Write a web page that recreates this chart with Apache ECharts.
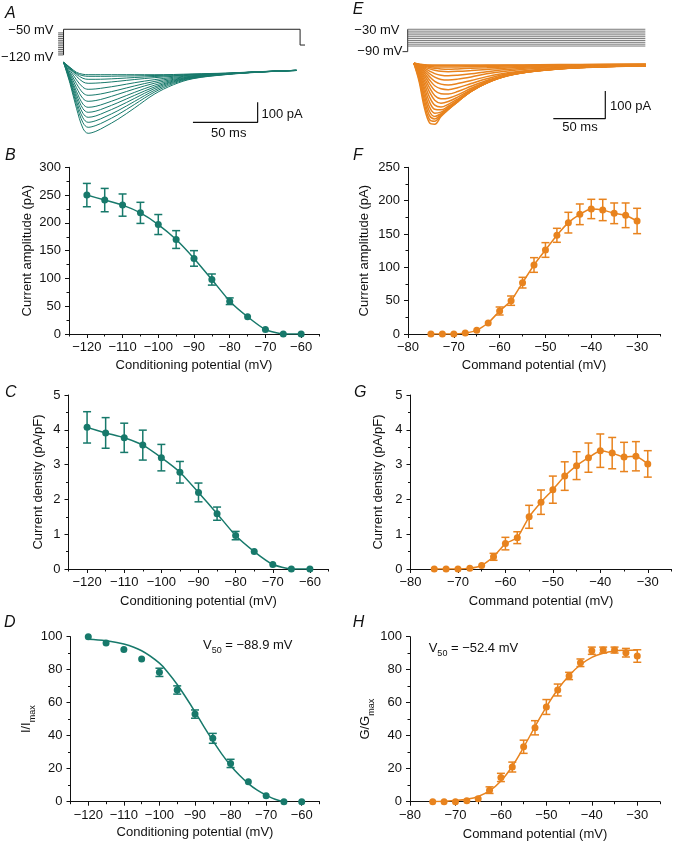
<!DOCTYPE html>
<html><head><meta charset="utf-8">
<script src="https://cdn.jsdelivr.net/npm/echarts@6/dist/echarts.min.js"></script>
<style>html,body{margin:0;padding:0;background:#fff}#c{width:673px;height:843px}</style>
</head><body><div id="c"></div><script>
// ---------- data ----------
const condV = [-120,-115,-110,-105,-100,-95,-90,-85,-80,-75,-70,-65,-60];
const ampB  = [250,241,232,218,197,170,136,98,59,31,8,0,0];
const errB  = [21,21,20,19,18,16,14,10,6,0,0,0,0];
const densC = [4.07,3.91,3.77,3.56,3.20,2.78,2.20,1.59,0.96,0.50,0.13,0,0];
const errC  = [0.45,0.44,0.42,0.43,0.38,0.31,0.27,0.19,0.12,0,0,0,0];
const normD = [100,96.2,92.3,86.5,78.4,67.7,53.1,38.4,23.2,12.1,3.6,0,0];
const errD  = [0,0,0,0,2.5,2.5,2.5,3,2.5,0,0,0,0];
const fitDV = [-120,-115,-110,-105,-100,-97.5,-95,-92.5,-90,-87.5,-85,-82.5,-80,-77.5,-75,-72.5,-70,-67.5,-65];
const fitD  = [98.5,97.6,95.6,91.5,84,78,71,63,54.5,45.5,37,29,22,16,11,7,4,1.5,0];

const cmdV  = [-75,-72.5,-70,-67.5,-65,-62.5,-60,-57.5,-55,-52.5,-50,-47.5,-45,-42.5,-40,-37.5,-35,-32.5,-30];
const ampF  = [0,0,0,1.5,5.5,16.5,34.5,50,77,103.5,126,148,167,179.5,187.5,186,181,178,169.5];
const errF  = [0,0,0,0,0,0,6,7,8,11,11,10.5,15.5,15.5,14.5,16,15.5,18.5,19];
const densG = [0,0,0,0.02,0.1,0.35,0.73,0.9,1.5,1.92,2.28,2.67,2.97,3.2,3.4,3.33,3.22,3.24,3.02];
const errG  = [0,0,0,0,0,0.1,0.18,0.17,0.33,0.35,0.39,0.41,0.4,0.42,0.48,0.45,0.42,0.42,0.38];
const normH = [0,0,0,0.6,1.8,7,14.7,21,33.3,44.8,57.4,67.7,76.2,84.2,91.5,91.9,91.9,90.3,88.3];
const errH  = [0,0,0,0,0,2,2.5,3,4,4.3,4.5,3.6,2.2,2.3,2.2,1.8,1.8,2.6,3.8];
const fitHV = [-75,-72.5,-70,-67.5,-65,-62.5,-60,-57.5,-55,-52.5,-50,-47.5,-45,-42.5,-40,-37.5,-35,-32.5,-30];
const fitH  = [0.1,0.3,0.7,1.5,3.2,6.5,12.5,21.5,33,45.5,57.5,68,76.5,83,87.5,90,91.3,91.8,92];

// tick labels
const xTicksCond = [-120,-110,-100,-90,-80,-70,-60];
const xMinorCond = [-125,-115,-105,-95,-85,-75,-65,-55];
const xTicksCmd  = [-80,-70,-60,-50,-40,-30];
const xMinorCmd  = [-75,-65,-55,-45,-35,-25];

// panel A: inactivation protocol (mV) and current traces (ms, pA)
const condLevelsA = [-120,-115,-110,-105,-100,-95,-90,-85,-80,-75,-70,-65,-60];
const testA = -50;
const tailA = -93;
const timeA = [0,5,10,15,19,25,32,42,55,70,85,100,125,150,180];
const tracesA = [
  [0,-25,-50,-60,-62,-62,-62,-62,-62,-62,-61,-58,-54,-47,-40],
  [0,-28,-55,-67,-70,-70,-70,-69,-68,-66,-64,-60,-55,-48,-41],
  [0,-30,-60,-80,-85,-85,-84,-81,-76,-71,-67,-62,-56,-48,-40],
  [0,-33,-70,-98,-105,-104,-101,-95,-86,-77,-70,-64,-56,-48,-41],
  [0,-40,-88,-125,-135,-133,-127,-117,-102,-87,-75,-67,-57,-48,-40],
  [0,-50,-107,-153,-165,-162,-154,-139,-118,-96,-80,-69,-58,-49,-41],
  [0,-58,-127,-181,-195,-191,-180,-160,-133,-105,-85,-71,-58,-48,-40],
  [0,-68,-146,-209,-225,-220,-206,-183,-150,-115,-89,-73,-59,-49,-41],
  [0,-75,-162,-232,-250,-244,-228,-202,-165,-124,-93,-75,-59,-48,-40],
  [0,-82,-178,-255,-275,-268,-250,-222,-180,-132,-97,-76,-60,-49,-40],
  [0,-90,-195,-278,-300,-292,-273,-242,-195,-141,-101,-78,-60,-49,-41],
  [0,-97,-211,-302,-325,-316,-296,-262,-210,-150,-106,-80,-61,-49,-40],
  [0,-106,-230,-330,-355,-345,-322,-285,-228,-160,-112,-82,-62,-50,-40]
];
const scaleBarA = [[100,-300],[150,-300],[150,-200]];

// panel E: activation protocol (mV) and current traces (ms, pA)
const holdE = -90;
const stepLevelsE = [-75,-70,-65,-60,-55,-50,-45,-40,-35,-30];
const timeE = [6,11,16,21,26,32,39,48,61,76,96,126,166,229];
const tracesE = [
  [0,-3,-5,-6,-6,-6,-6,-6,-6,-6,-6,-5,-4,-2],
  [0,-3,-6,-8,-9,-9,-9,-9,-9,-8,-7,-6,-5,-3],
  [0,-4,-8,-11,-13,-13,-13,-13,-12,-11,-10,-8,-6,-4],
  [0,-5,-10,-15,-18,-20,-21,-20,-18,-16,-13,-10,-7,-5],
  [0,-6,-13,-20,-25,-29,-30,-29,-26,-22,-17,-12,-8,-5],
  [0,-7,-17,-28,-37,-43,-45,-43,-38,-30,-22,-15,-10,-6],
  [0,-9,-22,-37,-50,-58,-60,-57,-49,-38,-28,-18,-12,-7],
  [0,-11,-28,-48,-65,-75,-78,-73,-62,-48,-34,-22,-13,-8],
  [0,-14,-35,-60,-81,-92,-95,-88,-73,-56,-38,-24,-14,-8],
  [0,-17,-43,-73,-98,-110,-111,-102,-83,-62,-41,-26,-15,-9],
  [0,-20,-52,-88,-116,-128,-126,-114,-90,-66,-43,-27,-15,-9],
  [0,-24,-62,-104,-133,-144,-138,-122,-95,-69,-44,-27,-16,-9],
  [0,-28,-74,-122,-151,-158,-148,-129,-98,-70,-45,-27,-15,-8],
  [0,-33,-87,-140,-166,-168,-155,-133,-100,-71,-45,-26,-15,-9],
  [0,-39,-101,-158,-180,-176,-160,-136,-101,-71,-44,-26,-15,-8],
  [0,-45,-116,-174,-192,-182,-163,-138,-101,-70,-44,-26,-14,-8],
  [0,-52,-131,-189,-201,-186,-165,-139,-101,-70,-43,-25,-14,-8],
  [0,-59,-146,-203,-209,-189,-166,-139,-100,-69,-42,-25,-14,-8],
  [0,-66,-160,-215,-220,-192,-167,-138,-99,-68,-41,-24,-14,-8]
];
const scaleBarE = [[140,-200],[190,-200],[190,-100]];

// ---------- styling ----------
const TEAL = '#17796b', ORANGE = '#e8831e', INK = '#111';
const FONT = '"Liberation Sans", Arial, Helvetica, sans-serif';
const minus = v => String(v).replace('-', '\u2212');

const grids = [
  {left: 50.6, top: 25.6, width: 258.8, height: 33},   // 0 A protocol
  {left: 50.6, top: 58.3, width: 258.8, height: 80},   // 1 A traces
  {left: 397.3, top: 27.4, width: 254.8, height: 26.1},// 2 E protocol
  {left: 397.3, top: 57.8, width: 254.8, height: 72},  // 3 E traces
  {left: 69, top: 167.3, width: 250, height: 166.7},   // 4 B
  {left: 68.5, top: 395, width: 260, height: 174},     // 5 C
  {left: 70.5, top: 636.7, width: 249, height: 165},   // 6 D
  {left: 408, top: 167.3, width: 252, height: 166.7},  // 7 F
  {left: 410.5, top: 395, width: 261, height: 174},    // 8 G
  {left: 410, top: 636.7, width: 250, height: 165}     // 9 H
].map(g => Object.assign({outerBoundsMode: 'none', containLabel: false}, g));

const xAxes = [], yAxes = [];
function hiddenAxes(gi, xmin, xmax, ymin, ymax) {
  xAxes.push({gridIndex: gi, type: 'value', min: xmin, max: xmax, show: false});
  yAxes.push({gridIndex: gi, type: 'value', min: ymin, max: ymax, show: false});
  return [xAxes.length - 1, yAxes.length - 1];
}
const nameStyle = {fontSize: 13, color: INK, fontFamily: FONT};
function plotAxes(gi, xmin, xmax, majors, minors, xname, xgap, ymax, yint, yname, ygap, yrich) {
  xAxes.push({gridIndex: gi, type: 'value', min: xmin, max: xmax,
    name: xname, nameLocation: 'middle', nameGap: xgap, nameTextStyle: nameStyle,
    axisLine: {show: true, onZero: false, lineStyle: {color: INK, width: 1}},
    axisTick: {show: true, length: 4, customValues: majors, lineStyle: {color: INK, width: 1}},
    axisLabel: {show: true, customValues: majors, fontSize: 13, color: INK, fontFamily: FONT, margin: 7, formatter: minus},
    splitLine: {show: false}});
  const xi = xAxes.length - 1;
  xAxes.push({gridIndex: gi, type: 'value', min: xmin, max: xmax, position: 'bottom',
    axisLine: {show: false}, axisLabel: {show: false}, splitLine: {show: false},
    axisTick: {show: true, length: 2.5, customValues: minors, lineStyle: {color: INK, width: 1}}});
  const nts = yrich ? Object.assign({}, nameStyle, {rich: yrich}) : nameStyle;
  yAxes.push({gridIndex: gi, type: 'value', min: 0, max: ymax, interval: yint,
    name: yname, nameLocation: 'middle', nameGap: ygap, nameTextStyle: nts,
    axisLine: {show: true, onZero: false, lineStyle: {color: INK, width: 1}},
    axisTick: {show: true, length: 4, lineStyle: {color: INK, width: 1}},
    minorTick: {show: true, splitNumber: 2, length: 2.5, lineStyle: {color: INK, width: 1}},
    axisLabel: {fontSize: 13, color: INK, fontFamily: FONT, margin: 8},
    splitLine: {show: false}, minorSplitLine: {show: false}});
  return [xi, yAxes.length - 1];
}

const series = [];
function seg(ax, pts, color, width) {
  series.push({type: 'line', xAxisIndex: ax[0], yAxisIndex: ax[1], data: pts, symbol: 'none',
    lineStyle: {color: color, width: width}, silent: true, z: 2});
}
function meanLine(ax, xs, ys, color, connect) {
  series.push({type: 'line', xAxisIndex: ax[0], yAxisIndex: ax[1],
    data: xs.map((v, i) => [v, ys[i]]), symbol: 'circle', symbolSize: 7, showSymbol: true,
    smooth: 0.15, itemStyle: {color: color, borderWidth: 0},
    lineStyle: connect ? {color: color, width: 1.5} : {width: 0, opacity: 0}, z: 4, silent: true});
}
function errBars(ax, xs, ys, es, color) {
  const data = [];
  xs.forEach((v, i) => { if (es[i] > 0) data.push([v, ys[i] - es[i], ys[i] + es[i]]); });
  series.push({type: 'custom', xAxisIndex: ax[0], yAxisIndex: ax[1], data: data, silent: true, z: 3,
    encode: {x: 0, y: [1, 2]},
    renderItem: (params, api) => {
      const x0 = api.value(0);
      const lo = api.coord([x0, api.value(1)]), hi = api.coord([x0, api.value(2)]);
      const c = 4, st = {stroke: color, lineWidth: 1.5};
      return {type: 'group', children: [
        {type: 'line', shape: {x1: lo[0], y1: lo[1], x2: hi[0], y2: hi[1]}, style: st},
        {type: 'line', shape: {x1: lo[0] - c, y1: lo[1], x2: lo[0] + c, y2: lo[1]}, style: st},
        {type: 'line', shape: {x1: hi[0] - c, y1: hi[1], x2: hi[0] + c, y2: hi[1]}, style: st}]};
    }});
}
function fitLine(ax, xs, ys, color) {
  series.push({type: 'line', xAxisIndex: ax[0], yAxisIndex: ax[1], data: xs.map((v, i) => [v, ys[i]]),
    symbol: 'none', smooth: 0.4, lineStyle: {color: color, width: 1.5}, z: 2, silent: true});
}
function traces(ax, times, rows, color, w) {
  rows.forEach(r => series.push({type: 'line', xAxisIndex: ax[0], yAxisIndex: ax[1],
    data: times.map((t, i) => [t, r[i]]), symbol: 'none', smooth: 0.35,
    lineStyle: {color: color, width: w}, silent: true, z: 2}));
}

// ---- A ----
const axAp = hiddenAxes(0, -10, 190, -130, -40);
const axAc = hiddenAxes(1, -10, 190, -380, 20);
condLevelsA.forEach(L => seg(axAp, [[-4.2, L], [0, L]], '#333', 0.8));
seg(axAp, [[0, condLevelsA[0]], [0, testA], [182.8, testA], [182.8, tailA], [186.6, tailA]], '#222', 1);
traces(axAc, timeA, tracesA, TEAL, 1);
seg(axAc, scaleBarA, '#111', 1.2);

// ---- E ----
const axEp = hiddenAxes(2, -10, 235, -95, -25);
const axEc = hiddenAxes(3, -10, 235, -240, 20);
seg(axEp, [[-5, holdE], [0, holdE], [0, stepLevelsE[stepLevelsE.length - 1]]], '#333', 1);
stepLevelsE.forEach(L => seg(axEp, [[0, L], [228.5, L]], '#555', 0.8));
traces(axEc, timeE, tracesE, ORANGE, 1.5);
seg(axEc, scaleBarE, '#111', 1.2);

// ---- B, C, D ----
const subRich = {
  a: {fontSize: 13, color: INK, fontFamily: FONT, padding: [0, 0, 4, 0], verticalAlign: 'top'},
  s: {fontSize: 9, color: INK, fontFamily: FONT, verticalAlign: 'bottom'}
};
const axB = plotAxes(4, -125, -55, xTicksCond, xMinorCond, 'Conditioning potential (mV)', 25, 300, 50, 'Current amplitude (pA)', 35);
const axC = plotAxes(5, -125, -55, xTicksCond, xMinorCond, 'Conditioning potential (mV)', 26, 5, 1, 'Current density (pA/pF)', 24);
const axD = plotAxes(6, -125, -55, xTicksCond, xMinorCond, 'Conditioning potential (mV)', 24, 100, 20, '{a|I/I}{s|max}', 30, subRich);
errBars(axB, condV, ampB, errB, TEAL); meanLine(axB, condV, ampB, TEAL, true);
errBars(axC, condV, densC, errC, TEAL); meanLine(axC, condV, densC, TEAL, true);
fitLine(axD, fitDV, fitD, TEAL); errBars(axD, condV, normD, errD, TEAL); meanLine(axD, condV, normD, TEAL, false);

// ---- F, G, H ----
const axF = plotAxes(7, -80, -25, xTicksCmd, xMinorCmd, 'Command potential (mV)', 25, 250, 50, 'Current amplitude (pA)', 37);
const axG = plotAxes(8, -80, -25, xTicksCmd, xMinorCmd, 'Command potential (mV)', 26, 5, 1, 'Current density (pA/pF)', 26);
const axH = plotAxes(9, -80, -25, xTicksCmd, xMinorCmd, 'Command potential (mV)', 26, 100, 20, '{a|G/G}{s|max}', 32, subRich);
errBars(axF, cmdV, ampF, errF, ORANGE); meanLine(axF, cmdV, ampF, ORANGE, true);
errBars(axG, cmdV, densG, errG, ORANGE); meanLine(axG, cmdV, densG, ORANGE, true);
fitLine(axH, fitHV, fitH, ORANGE); errBars(axH, cmdV, normH, errH, ORANGE); meanLine(axH, cmdV, normH, ORANGE, false);

// ---------- texts ----------
function txt(text, x, y, opts) {
  return {type: 'text', x: x, y: y, silent: true, z: 10, style: Object.assign({
    text: text, fontSize: 13, fontFamily: FONT, fill: INK, align: 'left', verticalAlign: 'middle'}, opts || {})};
}
const letter = (t, x, y) => txt(t, x, y, {fontSize: 16, fontStyle: 'italic'});
const v50Rich = {
  v: {fontSize: 13, fontFamily: FONT, fill: INK, color: INK, padding: [0, 0, 4, 0], verticalAlign: 'top'},
  s: {fontSize: 9, fontFamily: FONT, fill: INK, color: INK, verticalAlign: 'bottom'}
};
const graphics = [
  letter('A', 5, 13.3), letter('B', 5, 156), letter('C', 5, 392.5), letter('D', 4, 622.5),
  letter('E', 352.7, 10), letter('F', 353, 156), letter('G', 354, 392.5), letter('H', 352.7, 622.5),
  txt('\u221250 mV', 53.5, 30, {align: 'right'}),
  txt('\u2212120 mV', 53.5, 57, {align: 'right'}),
  txt('100 pA', 261.5, 114, {}),
  txt('50 ms', 228.7, 133.5, {align: 'center'}),
  txt('\u221230 mV', 399.5, 30, {align: 'right'}),
  txt('\u221290 mV', 402.5, 51.7, {align: 'right'}),
  txt('100 pA', 610, 106, {}),
  txt('50 ms', 580, 127.7, {align: 'center'}),
  txt('{v|V}{s|50}{v| = \u221288.9 mV}', 203, 647, {rich: v50Rich}),
  txt('{v|V}{s|50}{v| = \u221252.4 mV}', 428.7, 650, {rich: v50Rich})
];

const chart = echarts.init(document.getElementById('c'), null, {renderer: 'canvas'});
chart.setOption({
  animation: false,
  backgroundColor: '#fff',
  textStyle: {fontFamily: FONT},
  grid: grids, xAxis: xAxes, yAxis: yAxes, series: series, graphic: graphics
});
</script></body></html>
